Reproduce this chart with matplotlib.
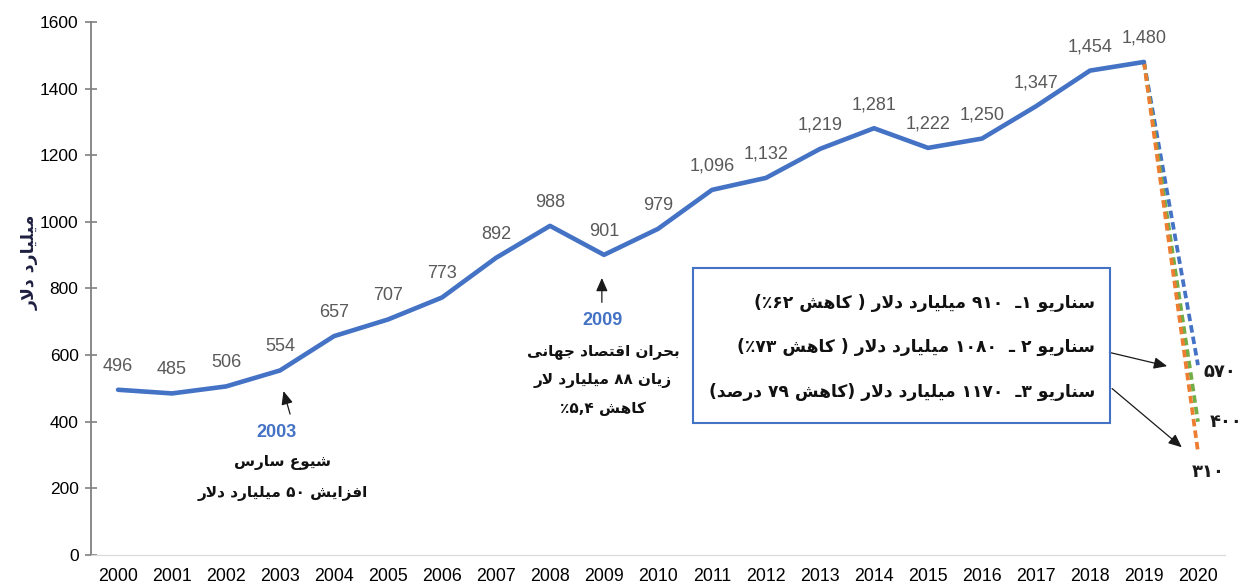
import re
import matplotlib
matplotlib.use("Agg")
import matplotlib.pyplot as plt

# ======= data =======
years = list(range(2000, 2021))
values = [496, 485, 506, 554, 657, 707, 773, 892, 988, 901, 979,
          1096, 1132, 1219, 1281, 1222, 1250, 1347, 1454, 1480]
scenario_values = [570, 400, 310]          # 2020 scenarios
scenario_labels = ["۵۷۰", "۴۰۰", "۳۱۰"]
scenario_colors = ["#4472C4", "#70AD47", "#ED7D31"]
box_lines = [
    "سناریو ۱ـ  ۹۱۰ میلیارد دلار ( کاهش ۶۲٪)",
    "سناریو ۲ ـ  ۱۰۸۰ میلیارد دلار ( کاهش ۷۳٪)",
    "سناریو ۳ـ  ۱۱۷۰ میلیارد دلار (کاهش ۷۹ درصد)",
]
note_2003 = ["شیوع سارس", "افزایش ۵۰ میلیارد دلار"]
note_2009 = ["بحران اقتصاد جهانی", "زیان ۸۸ میلیارد لار", "کاهش ۵,۴٪"]
y_label = "میلیارد دلار"

BLUE = "#4472C4"

# ======= simple arabic shaping (no arabic_reshaper available) =======
FORMS = {
    'ا': ('\uFE8D', '\uFE8E', None, None),
    'ب': ('\uFE8F', '\uFE90', '\uFE91', '\uFE92'),
    'ت': ('\uFE95', '\uFE96', '\uFE97', '\uFE98'),
    'ج': ('\uFE9D', '\uFE9E', '\uFE9F', '\uFEA0'),
    'ح': ('\uFEA1', '\uFEA2', '\uFEA3', '\uFEA4'),
    'د': ('\uFEA9', '\uFEAA', None, None),
    'ر': ('\uFEAD', '\uFEAE', None, None),
    'ز': ('\uFEAF', '\uFEB0', None, None),
    'س': ('\uFEB1', '\uFEB2', '\uFEB3', '\uFEB4'),
    'ش': ('\uFEB5', '\uFEB6', '\uFEB7', '\uFEB8'),
    'ص': ('\uFEB9', '\uFEBA', '\uFEBB', '\uFEBC'),
    'ع': ('\uFEC9', '\uFECA', '\uFECB', '\uFECC'),
    'ف': ('\uFED1', '\uFED2', '\uFED3', '\uFED4'),
    'ق': ('\uFED5', '\uFED6', '\uFED7', '\uFED8'),
    'ک': ('\uFED9', '\uFEDA', '\uFEDB', '\uFEDC'),
    'ل': ('\uFEDD', '\uFEDE', '\uFEDF', '\uFEE0'),
    'م': ('\uFEE1', '\uFEE2', '\uFEE3', '\uFEE4'),
    'ن': ('\uFEE5', '\uFEE6', '\uFEE7', '\uFEE8'),
    'ه': ('\uFEE9', '\uFEEA', '\uFEEB', '\uFEEC'),
    'و': ('\uFEED', '\uFEEE', None, None),
    'ی': ('\uFEEF', '\uFEF0', '\uFEF3', '\uFEF4'),
}


def _dual(c):
    return c in FORMS and FORMS[c][2] is not None


def shape(text):
    out = []
    i = 0
    n = len(text)
    while i < n:
        c = text[i]
        if c not in FORMS:
            out.append(c); i += 1; continue
        prev = text[i-1] if i > 0 else ''
        link_prev = _dual(prev)
        if c == 'ل' and i + 1 < n and text[i+1] == 'ا':
            out.append('\uFEFC' if link_prev else '\uFEFB'); i += 2; continue
        nxt = text[i+1] if i + 1 < n else ''
        link_next = _dual(c) and nxt in FORMS
        iso, fin, ini, med = FORMS[c]
        if link_prev and link_next:
            out.append(med)
        elif link_prev:
            out.append(fin)
        elif link_next:
            out.append(ini)
        else:
            out.append(iso)
        i += 1
    return ''.join(out)


def fa(text):
    s = shape(text)[::-1]
    s = re.sub(r'[0-9۰-۹][0-9۰-۹,.]*', lambda m: m.group(0)[::-1], s)
    return s.translate(str.maketrans({'(': ')', ')': '('}))


# ======= figure =======
fig = plt.figure(figsize=(12.44, 5.86), dpi=100)
ax = fig.add_axes([0.0732, 0.0529, 0.9115, 0.9096])

x = list(range(len(values)))
ax.plot(x, values, color=BLUE, lw=3.3, solid_capstyle="round", zorder=3)

for xi, v in zip(x, values):
    ax.annotate(f"{v:,}", (xi, v), xytext=(0, 17), textcoords="offset points",
                ha="center", va="center", fontsize=13, color="#595959",
                family="Liberation Sans")

# scenario lines 2019 -> 2020
for v, col in zip(scenario_values, scenario_colors):
    ax.plot([x[-1], x[-1] + 1], [values[-1], v], color=col, lw=2.7,
            ls=(0, (2.0, 1.1)), zorder=2)

lab_pos = [(20.41, 549), (20.52, 399), (20.19, 249)]
for (px, py), t in zip(lab_pos, scenario_labels):
    ax.text(px, py, t, ha="center", va="center", fontsize=13,
            fontweight="bold", color="#1a1a1a", clip_on=False)

# scenario box
box = plt.Rectangle((10.65, 396), 7.72, 465, fill=False, ec=BLUE, lw=1.5,
                    zorder=4)
ax.add_patch(box)
for yy, t in zip([757, 625, 489], box_lines):
    ax.text(18.09, yy, fa(t), ha="right", va="center", fontsize=12.3,
            fontweight="bold", color="#111111")

arrow_kw = dict(arrowstyle="-|>,head_length=0.8,head_width=0.35",
                color="#1a1a1a", lw=0.9)
ax.annotate("", xy=(19.48, 565), xytext=(18.31, 610), arrowprops=arrow_kw,
            annotation_clip=False)
ax.annotate("", xy=(19.74, 318), xytext=(18.37, 505), arrowprops=arrow_kw,
            annotation_clip=False)

# 2003 note
ax.annotate("", xy=(3.05, 500), xytext=(3.2, 415), arrowprops=arrow_kw)
ax.text(2.93, 369, "2003", ha="center", va="center", fontsize=13,
        fontweight="bold", color=BLUE, family="Liberation Sans")
for yy, t in zip([279, 186], note_2003):
    ax.text(3.05, yy, fa(t), ha="center", va="center", fontsize=11,
            fontweight="bold", color="#111111")

# 2009 note
ax.annotate("", xy=(8.96, 840), xytext=(8.96, 750), arrowprops=arrow_kw)
ax.text(8.98, 705, "2009", ha="center", va="center", fontsize=13,
        fontweight="bold", color=BLUE, family="Liberation Sans")
for yy, t in zip([612, 525, 441], note_2009):
    ax.text(8.98, yy, fa(t), ha="center", va="center", fontsize=11,
            fontweight="bold", color="#111111")

# axes
ax.set_xlim(-0.5, 20.5)
ax.set_ylim(0, 1600)
ax.set_yticks(range(0, 1601, 200))
ax.set_xticks(range(len(years)))
ax.set_xticklabels([str(y) for y in years], family="Liberation Sans",
                   fontsize=12.8)
for lbl in ax.get_yticklabels():
    lbl.set_family("Liberation Sans")
    lbl.set_fontsize(12.5)
ax.tick_params(axis="x", length=0, pad=9)
ax.tick_params(axis="y", direction="inout", length=8, width=1.2,
               color="#808080", pad=5)
for s in ("top", "right"):
    ax.spines[s].set_visible(False)
ax.spines["left"].set_color("#808080")
ax.spines["left"].set_linewidth(1.3)
ax.spines["bottom"].set_color("#d9d9d9")

fig.text(30 / 1244, 1 - 262 / 586, fa(y_label), rotation=90, ha="center",
         va="center", fontsize=12.5, fontweight="bold", color="#1f2040")

fig.savefig("out.png", dpi=100)
